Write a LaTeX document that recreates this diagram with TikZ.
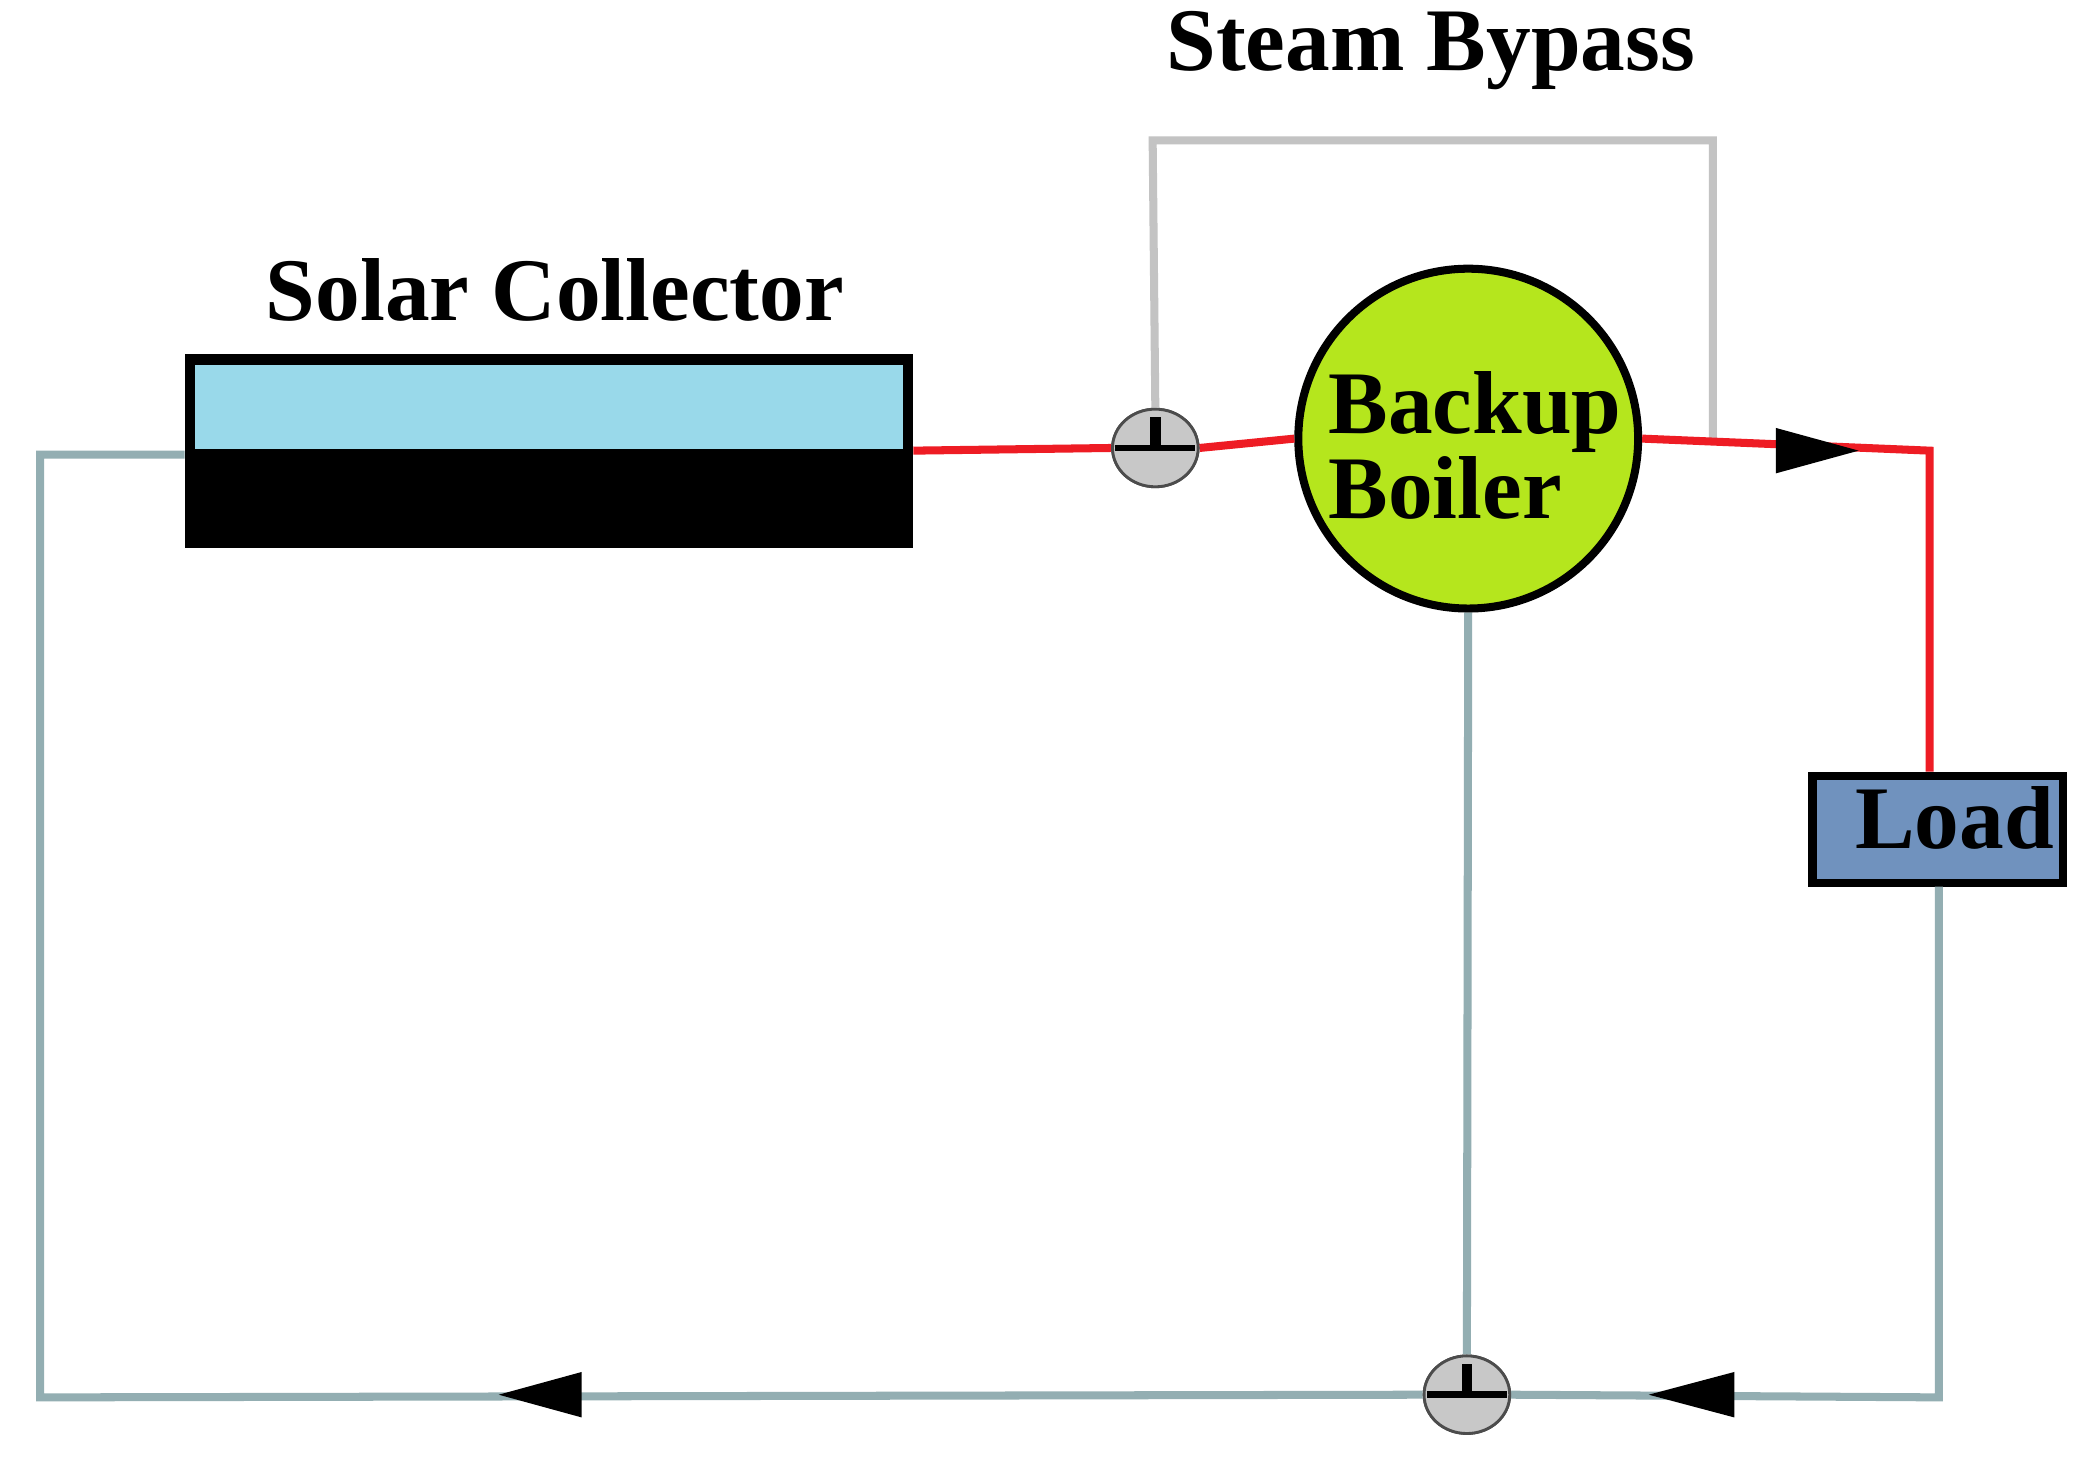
\documentclass[tikz,border=0pt]{standalone}
\usepackage{fontspec}
\setmainfont{Liberation Serif}
\usetikzlibrary{shapes.geometric}
\definecolor{cold}{HTML}{93AEB2}
\definecolor{hot}{HTML}{EE1C24}
\definecolor{bypass}{HTML}{C3C3C3}
\definecolor{lime}{HTML}{B5E61D}
\definecolor{loadc}{HTML}{7092BE}
\definecolor{sky}{HTML}{99D9EA}
\definecolor{valvec}{HTML}{C8C8C8}
\begin{document}
\begin{tikzpicture}[x=0.01cm,y=-0.01cm,
  pipe/.style={line width=6pt*0.2845},
  lbl/.style={font=\fontsize{19}{20}\selectfont\bfseries},
  valve/.style={ellipse,draw=black!70,line width=0.6pt,fill=valvec,minimum width=64\pgflinewidth*0+0.64cm,minimum height=0.58cm,inner sep=0pt},
  arr/.style={fill=black}]
\useasboundingbox (0,0) rectangle (1560,1090);
\fill[white] (0,0) rectangle (1560,1090);
% coordinates
\coordinate (cl) at (138,340);
\coordinate (c1) at (30,340);
\coordinate (c2) at (30,1045);
\coordinate (c3) at (1450,1045);
\coordinate (sc) at (683,337);
\coordinate (r1) at (1443,337);
\coordinate (b1) at (862,105);
\coordinate (b2) at (1281,105);
\coordinate (b3) at (1281,330);
% nodes
\node[valve] (v1) at (864,335) {};
\node[valve] (v2) at (1097,1043) {};
\node[circle,draw=black,line width=6pt*0.2845,fill=lime,minimum size=2.54cm,inner sep=0pt] (boil) at (1098,328) {};
\node[lbl,align=left] (btext) at (1103,333) {Backup\\[-2pt]Boiler};
\node[draw=black,line width=6pt*0.2845,fill=loadc,minimum width=1.87cm,minimum height=0.8cm,inner sep=0pt] (load) at (1449,620) {};
\node[lbl,anchor=west] (ltext) at (1375,612) {Load};
\node[lbl] (st) at (1070,38) {Steam Bypass};
\node[lbl] (sct) at (415,217) {Solar Collector};
% pipes
\draw[pipe,bypass] (v1.north) -- (b1) -- (b2) -- (b3);
\draw[pipe,cold] (cl) -- (c1) -- (c2) -- (v2.west);
\draw[pipe,cold] (v2.east) -- (c3) -- (load.south -| c3);
\draw[pipe,cold] (boil.south) -- (v2.north);
\draw[pipe,hot] (sc) -- (v1.west);
\draw[pipe,hot] (v1.east) -- (boil.west);
\draw[pipe,hot] (boil.east) -- (r1) -- (load.north -| r1);
% redraw valves on top
\node[valve] at (864,335) {};
\node[valve] at (1097,1043) {};
\draw[line width=1.4pt] (834,335) -- (894,335);
\draw[line width=2.2pt] (864,335) -- (864,312);
\draw[line width=1.4pt] (1067,1043) -- (1127,1043);
\draw[line width=2.2pt] (1097,1043) -- (1097,1020);
% collector
\fill[black] (138,265) rectangle (683,410);
\fill[sky] (146,273) rectangle (675,336);
% arrows
\fill[arr] (1390,337) -- (1328,320) -- (1328,354) -- cycle;
\fill[arr] (373,1043) -- (435,1026) -- (435,1060) -- cycle;
\fill[arr] (1233,1043) -- (1297,1026) -- (1297,1060) -- cycle;
\end{tikzpicture}
\end{document}
